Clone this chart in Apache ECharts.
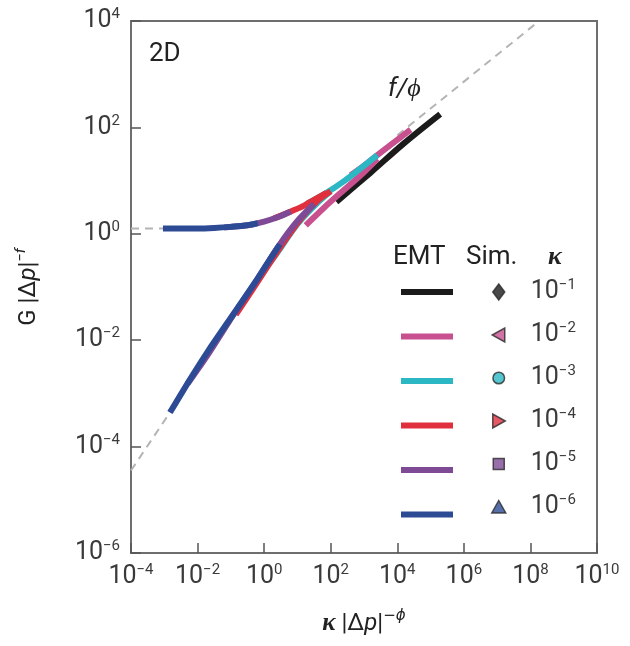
<!DOCTYPE html>
<html>
<head>
<meta charset="utf-8">
<script src="https://cdn.jsdelivr.net/npm/echarts@6/dist/echarts.min.js"></script>
<style>
html, body { margin: 0; padding: 0; background: #fff; }
#chart { width: 630px; height: 646px; }
</style>
</head>
<body>
<div id="chart"></div>
<script>
var dom = document.getElementById('chart');
var myChart = echarts.init(dom);

// every value is log10 of the plotted quantity
const kappaExponents = [-1, -2, -3, -4, -5, -6];

// EMT curves [log10 x, log10 y], one upper and one lower branch per kappa
const k1Curve = [[2.17, 0.60], [3.2, 1.15], [4.2, 1.70], [5.29, 2.25]];
const k2Upper = [[2.6, 1.10], [3.0, 1.28], [3.4, 1.48], [3.9, 1.72], [4.4, 1.96]];
const k2Lower = [[1.25, 0.16], [1.8, 0.49], [2.3, 0.77], [2.9, 1.10], [3.4, 1.41]];
const k3Upper = [[1.3, 0.57], [1.87, 0.77], [2.4, 0.99], [2.9, 1.23], [3.4, 1.48]];
const k3Lower = [[0.05, -0.64], [0.32, -0.42], [1.0, 0.18], [1.6, 0.58], [2.0, 0.80]];
const k4Upper = [[0.3, 0.29], [0.8, 0.42], [1.2, 0.53], [1.5, 0.64], [1.87, 0.77]];
const k4Lower = [[-0.85, -1.52], [-0.3, -1.0], [0.5, -0.24], [1.1, 0.28], [1.6, 0.62], [2.0, 0.80]];
const k5Upper = [[-1.2, 0.12], [-0.5, 0.16], [0.0, 0.23], [0.4, 0.31], [0.8, 0.42]];
const k5Lower = [[-2.3, -2.82], [-1.7, -2.28], [-0.9, -1.5], [-0.3, -0.95], [0.47, -0.2], [1.0, 0.24], [1.5, 0.56]];
const k6Upper = [[-3.04, 0.10], [-2.5, 0.10], [-2.0, 0.10], [-1.5, 0.11], [-1.0, 0.13], [-0.5, 0.16], [-0.19, 0.20]];
const k6Lower = [[-2.83, -3.36], [-2.23, -2.74], [-1.68, -2.2], [-0.88, -1.47], [-0.28, -0.92], [0.1, -0.55], [0.47, -0.2]];

// grey dashed guide lines
const scalingGuide = [[4.0, 1.85], [8.2, 3.97]];
const slopeOneGuide = [[-4.0, -4.45], [-2.8, -3.33]];
const plateauGuide = [[-4.0, 0.10], [-3.0, 0.10]];

const emtColors = ['#1b1b1b', '#c8508f', '#2bb7c3', '#e0303d', '#7e4a96', '#2c4b94'];
const simSymbols = [
    'path://M0,0M16,16M8,0L14,8L8,16L2,8Z',
    'path://M0,0M16,16M1.5,8L14,1L14,15Z',
    'path://M0,0M16,16M8,2.2A5.8,5.8,0,1,1,7.99,2.2Z',
    'path://M0,0M16,16M14.5,8L2,1L2,15Z',
    'path://M0,0M16,16M2.5,2.5L13.5,2.5L13.5,13.5L2.5,13.5Z',
    'path://M0,0M16,16M8,1.5L15,14L1,14Z'
];

function sup(n) {
    return n < 0 ? '\u2212' + (-n) : String(n);
}
function emtName(i) { return 'EMT ' + kappaExponents[i]; }
function simName(i) { return 'Sim ' + kappaExponents[i]; }
function simNameIndex(name) {
    for (var i = 0; i < kappaExponents.length; i++) {
        if (simName(i) === name) return i;
    }
    return 0;
}

const tickRich = {
    b: { fontSize: 25, fontFamily: 'Roboto', color: '#3a3a3a', lineHeight: 28 },
    s: { fontSize: 15, fontFamily: 'Roboto', color: '#3a3a3a', verticalAlign: 'top', lineHeight: 15 }
};

function emtLine(name, data, color) {
    return {
        name: name,
        type: 'line',
        data: data,
        smooth: 0.3,
        symbol: 'none',
        color: color,
        lineStyle: { width: 6, color: color, cap: 'butt' },
        emphasis: { disabled: true },
        silent: true
    };
}
function guideLine(data) {
    return {
        type: 'line',
        data: data,
        symbol: 'none',
        lineStyle: { width: 2, color: '#b4b4b4', type: [8, 6] },
        silent: true
    };
}

const branches = [
    [k1Curve],
    [k2Upper, k2Lower],
    [k3Upper, k3Lower],
    [k4Upper, k4Lower],
    [k5Upper, k5Lower],
    [k6Upper, k6Lower]
];

const series = [guideLine(scalingGuide), guideLine(slopeOneGuide), guideLine(plateauGuide)];
branches.forEach(function(list, i) {
    list.forEach(function(d) {
        series.push(emtLine(emtName(i), d, emtColors[i]));
    });
});
kappaExponents.forEach(function(k, i) {
    series.push({
        name: simName(i),
        type: 'scatter',
        data: [],
        symbol: simSymbols[i],
        color: emtColors[i],
        itemStyle: { color: emtColors[i], borderColor: '#2a2a2a', borderWidth: 1.5 }
    });
});

option = {
    animation: false,
    grid: {
        left: 131, right: 33, top: 21, bottom: 93,
        containLabel: false,
        outerBoundsMode: 'none',
        show: true,
        borderColor: '#6e6e6e',
        borderWidth: 2
    },
    xAxis: {
        type: 'value',
        min: -4, max: 10, interval: 2,
        name: '{k|\u03ba}{t| |\u0394}{i|p}{t||}{s|\u2212\u03d5}',
        nameLocation: 'middle',
        nameGap: 56,
        nameTextStyle: {
            rich: {
                k: { fontSize: 25, fontFamily: 'Liberation Serif', fontStyle: 'italic', fontWeight: 'bold', color: '#222', lineHeight: 30 },
                t: { fontSize: 24, fontFamily: 'Roboto', color: '#222', lineHeight: 30 },
                i: { fontSize: 24, fontFamily: 'Roboto', fontStyle: 'italic', color: '#222', lineHeight: 30 },
                s: { fontSize: 15, fontFamily: 'DejaVu Sans', fontStyle: 'italic', color: '#222', verticalAlign: 'top', lineHeight: 15 }
            }
        },
        axisLine: { onZero: false, lineStyle: { color: '#6e6e6e', width: 2 } },
        axisTick: { inside: true, length: 10, lineStyle: { color: '#555', width: 1.5 } },
        splitLine: { show: false },
        axisLabel: {
            margin: 10,
            formatter: function(v) { return '{b|10}{s|' + sup(v) + '}'; },
            rich: tickRich
        }
    },
    yAxis: {
        type: 'value',
        min: -6, max: 4, interval: 2,
        name: '{g|G}{t| |\u0394}{i|p}{t||}{s|\u2212f}',
        nameLocation: 'middle',
        nameGap: 87,
        nameTextStyle: {
            rich: {
                g: { fontSize: 24, fontFamily: 'Roboto', color: '#222', lineHeight: 30 },
                t: { fontSize: 24, fontFamily: 'Roboto', color: '#222', lineHeight: 30 },
                i: { fontSize: 24, fontFamily: 'Roboto', fontStyle: 'italic', color: '#222', lineHeight: 30 },
                s: { fontSize: 15, fontFamily: 'Roboto', fontStyle: 'italic', color: '#222', verticalAlign: 'top', lineHeight: 15 }
            }
        },
        axisLine: { onZero: false, lineStyle: { color: '#6e6e6e', width: 2 } },
        axisTick: { inside: true, length: 10, lineStyle: { color: '#555', width: 1.5 } },
        splitLine: { show: false },
        axisLabel: {
            margin: 11,
            formatter: function(v) { return '{b|10}{s|' + sup(v) + '}'; },
            rich: tickRich
        }
    },
    legend: [
        {
            data: kappaExponents.map(function(k, i) { return emtName(i); }),
            orient: 'vertical',
            left: 401, top: 278,
            padding: 0,
            itemWidth: 52, itemHeight: 6, itemGap: 16.5,
            icon: 'rect',
            selectedMode: false,
            formatter: function() { return ' '; },
            textStyle: { fontSize: 25, lineHeight: 28 }
        },
        {
            data: kappaExponents.map(function(k, i) { return simName(i); }),
            orient: 'vertical',
            left: 490, top: 278,
            padding: 0,
            itemWidth: 16, itemHeight: 16, itemGap: 16.5,
            selectedMode: false,
            itemStyle: { borderColor: '#2a2a2a', borderWidth: 1.5 },
            formatter: function(name) {
                return '{b|10}{s|' + sup(kappaExponents[simNameIndex(name)]) + '}';
            },
            textStyle: {
                rich: {
                    b: { fontSize: 25, fontFamily: 'Roboto', color: '#3a3a3a', lineHeight: 28, padding: [0, 0, 0, 19] },
                    s: { fontSize: 15, fontFamily: 'Roboto', color: '#3a3a3a', verticalAlign: 'top', lineHeight: 15 }
                }
            }
        }
    ],
    graphic: [
        { type: 'text', x: 149, y: 54, style: { text: '2D', font: '26px Roboto', fill: '#222', verticalAlign: 'middle' } },
        { type: 'text', x: 388, y: 89, style: { text: 'f/\u03d5', font: 'italic 26px Roboto', fill: '#222', verticalAlign: 'middle' } },
        { type: 'text', x: 393, y: 257, style: { text: 'EMT', font: '26px Roboto', fill: '#222', verticalAlign: 'middle' } },
        { type: 'text', x: 466, y: 257, style: { text: 'Sim.', font: '26px Roboto', fill: '#222', verticalAlign: 'middle' } },
        { type: 'text', x: 548, y: 257, style: { text: '\u03ba', font: 'italic bold 26px "Liberation Serif"', fill: '#222', verticalAlign: 'middle' } }
    ],
    series: series
};

option && myChart.setOption(option);
</script>
</body>
</html>
